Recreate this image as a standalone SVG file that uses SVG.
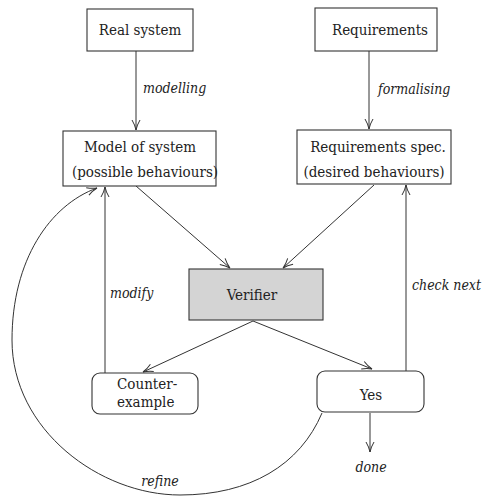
<svg xmlns="http://www.w3.org/2000/svg" width="487" height="496" viewBox="0 0 487 496">
<style>
.box{fill:#fff;stroke:#333;stroke-width:1.1}
.ver{fill:#d4d4d4;stroke:#333;stroke-width:1.1}
.t{font-family:'DejaVu Serif Condensed','DejaVu Serif',serif;font-stretch:condensed;font-size:15px;fill:#222}
.lbl{font-family:'DejaVu Serif Condensed','DejaVu Serif',serif;font-stretch:condensed;font-size:14px;font-style:italic;fill:#222}
.c{text-anchor:middle}
.e{fill:none;stroke:#333;stroke-width:1}
</style>
<defs>
<marker id="a" viewBox="0 0 12 10" refX="11" refY="5" markerWidth="12" markerHeight="10" markerUnits="userSpaceOnUse" orient="auto">
<path d="M1,1 Q6,4 11,5 Q6,6 1,9" fill="none" stroke="#333" stroke-width="1"/>
</marker>
</defs>
<g id="connectors">
<line class="e" x1="136" y1="51" x2="136" y2="130" marker-end="url(#a)"/>
<line class="e" x1="369" y1="51" x2="369" y2="129" marker-end="url(#a)"/>
<line class="e" x1="136" y1="186" x2="230" y2="268" marker-end="url(#a)"/>
<line class="e" x1="374" y1="185" x2="283" y2="268" marker-end="url(#a)"/>
<line class="e" x1="253" y1="321" x2="143" y2="372" marker-end="url(#a)"/>
<line class="e" x1="253" y1="321" x2="372" y2="369" marker-end="url(#a)"/>
<line class="e" x1="105" y1="373" x2="105" y2="187" marker-end="url(#a)"/>
<line class="e" x1="406" y1="371" x2="406" y2="185" marker-end="url(#a)"/>
<line class="e" x1="370" y1="413" x2="370" y2="452" marker-end="url(#a)"/>
<path class="e" d="M322,413 C300,465 250,495 180,495 C100,495 12,430 12,340 C12,260 50,205 97,188" marker-end="url(#a)"/>
<text class="lbl" x="143" y="93">modelling</text>
<text class="lbl" x="378" y="94">formalising</text>
<text class="lbl" x="110" y="298">modify</text>
<text class="lbl" x="412" y="290">check next</text>
<text class="lbl c" x="371" y="472">done</text>
<text class="lbl c" x="160" y="486">refine</text>
</g>
<g id="real-system">
<rect class="box" x="87" y="9" width="106" height="42"/>
<text class="t c" x="140" y="35">Real system</text>
</g>
<g id="requirements">
<rect class="box" x="315" y="8" width="122" height="43"/>
<text class="t c" x="380" y="35">Requirements</text>
</g>
<g id="model">
<rect class="box" x="63" y="131" width="153" height="55"/>
<text class="t c" x="140" y="152">Model of system</text>
<text class="t c" x="145" y="177">(possible behaviours)</text>
</g>
<g id="req-spec">
<rect class="box" x="297" y="130" width="154" height="54"/>
<text class="t c" x="378" y="152">Requirements spec.</text>
<text class="t c" x="374" y="177">(desired behaviours)</text>
</g>
<g id="verifier">
<rect class="ver" x="189" y="269" width="134" height="51"/>
<text class="t c" x="252" y="300">Verifier</text>
</g>
<g id="counterexample">
<rect class="box" x="92" y="373" width="106" height="41" rx="8"/>
<text class="t" x="117" y="389">Counter-</text>
<text class="t" x="117" y="407">example</text>
</g>
<g id="yes">
<rect class="box" x="317" y="371" width="107" height="41" rx="8"/>
<text class="t c" x="371" y="400">Yes</text>
</g>
</svg>
